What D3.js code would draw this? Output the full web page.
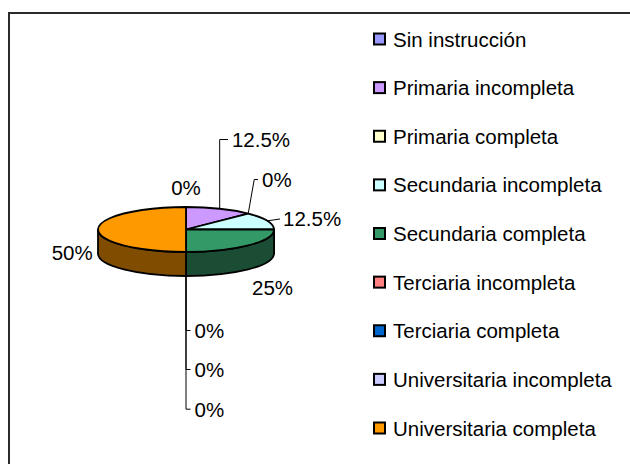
<!DOCTYPE html>
<html>
<head>
<meta charset="utf-8">
<script src="https://cdn.jsdelivr.net/npm/d3@7"></script>
<style>
  body { margin: 0; background: #fff; }
  svg { display: block; }
  text { font-family: "Liberation Sans", Arial, sans-serif; font-size: 20.5px; fill: #000; }
</style>
</head>
<body>
<div id="chart"></div>
<script>
const categories = [
  "Sin instrucción",
  "Primaria incompleta",
  "Primaria completa",
  "Secundaria incompleta",
  "Secundaria completa",
  "Terciaria incompleta",
  "Terciaria completa",
  "Universitaria incompleta",
  "Universitaria completa"
];
const values = [0, 12.5, 0, 12.5, 25, 0, 0, 0, 50];
const colors = [
  "#9999FF", "#CC99FF", "#FFFFCC", "#CCFFFF", "#339966",
  "#FF8080", "#0066CC", "#CCCCFF", "#FF9900"
];

// label placement relative to each slice's edge point: [dx, dy, anchor, leader]
// leader: null = none, number = elbow offset, "line" = straight
const labelLayout = [
  [0, -12, "middle", null],
  [12.3, -61.7, "start", 0],
  [13.8, -26.6, "start", 6],
  [15.7, 5.6, "start", "line"],
  [3.8, 25.6, "start", null],
  [8.5, 62, "start", 0],
  [8.5, 101, "start", 0],
  [8.5, 140.7, "start", 0],
  [-5.3, 30.5, "end", null]
];

const width = 630, height = 464;
const cx = 186, cy = 229.5, rx = 88, ry = 22.5, depth = 24;

const svg = d3.select("#chart").append("svg")
  .attr("width", width)
  .attr("height", height);

// chart frame (runs off the right and bottom edge)
svg.append("rect")
  .attr("x", 9).attr("y", 13)
  .attr("width", 700).attr("height", 600)
  .attr("fill", "none")
  .attr("stroke", "#2b2b2b")
  .attr("stroke-width", 2);

const xs = d3.scaleLinear().domain([-1, 1]).range([cx - rx, cx + rx]);
const ys = d3.scaleLinear().domain([-1, 1]).range([cy - ry, cy + ry]);
const pt = (a, dz = 0) => [xs(Math.sin(a)), ys(-Math.cos(a)) + dz];

function arcs(a0, a1, dz, sweep) {
  let s = "";
  const n = Math.max(1, Math.ceil(Math.abs(a1 - a0) / (Math.PI / 2)));
  for (let k = 1; k <= n; k++) {
    const p = pt(a0 + (a1 - a0) * k / n, dz);
    s += `A${rx},${ry} 0 0 ${sweep} ${p[0]},${p[1]}`;
  }
  return s;
}

const pie = d3.pie().sort(null).value(d => d);
const slices = pie(values).map((d, i) => ({ ...d, i }));

const shade = c => { const r = d3.rgb(c); return d3.rgb(r.r * 0.5, r.g * 0.5, r.b * 0.5).toString(); };

// side walls: only the front half (pi/2 .. 3pi/2) is visible
const sides = slices.filter(d => d.value > 0)
  .map(d => ({ d, s0: Math.max(d.startAngle, Math.PI / 2), s1: Math.min(d.endAngle, Math.PI * 1.5) }))
  .filter(o => o.s1 > o.s0);

svg.append("g").selectAll("path")
  .data(sides)
  .enter()
  .append("path")
  .attr("d", o => {
    const p0 = pt(o.s0), p1d = pt(o.s1, depth);
    return `M${p0}` + arcs(o.s0, o.s1, 0, 1) + `L${p1d}` + arcs(o.s1, o.s0, depth, 0) + "Z";
  })
  .attr("fill", o => shade(colors[o.d.i]))
  .attr("stroke", "#000")
  .attr("stroke-width", 1.8)
  .attr("stroke-linejoin", "round");

// top faces
svg.append("g").selectAll("path")
  .data(slices.filter(d => d.value > 0))
  .enter()
  .append("path")
  .attr("d", d => `M${cx},${cy}L${pt(d.startAngle)}` + arcs(d.startAngle, d.endAngle, 0, 1) + "Z")
  .attr("fill", d => colors[d.i])
  .attr("stroke", "#000")
  .attr("stroke-width", 1.8)
  .attr("stroke-linejoin", "round");

// data labels and leader lines
const anchorOf = d => {
  const mid = (d.startAngle + d.endAngle) / 2;
  return pt(mid, Math.cos(mid) < -1e-9 ? depth : 0);
};

const labels = slices.map(d => {
  const a = anchorOf(d);
  const [dx, dy, anchor, leader] = labelLayout[d.i];
  return { d, a, x: a[0] + dx, y: a[1] + dy, anchor, leader };
});

const line = d3.line();
svg.append("g").selectAll("path")
  .data(labels.filter(l => l.leader !== null))
  .enter()
  .append("path")
  .attr("d", l => {
    const ty = l.y - 7.5;
    if (l.leader === "line") return line([l.a, [l.x - 3, ty]]);
    return line([l.a, [l.a[0] + l.leader, ty], [l.x - 4, ty]]);
  })
  .attr("fill", "none")
  .attr("stroke", "#000")
  .attr("stroke-width", 1);

svg.append("g").selectAll("text")
  .data(labels)
  .enter()
  .append("text")
  .attr("x", l => l.x)
  .attr("y", l => l.y)
  .attr("text-anchor", l => l.anchor)
  .text(l => l.d.value + "%");

// legend
const ly = d3.scaleLinear().domain([0, categories.length - 1]).range([39, 428]);
const legend = svg.append("g").selectAll("g")
  .data(categories)
  .enter()
  .append("g")
  .attr("transform", (d, i) => `translate(374,${ly(i)})`);

legend.append("rect")
  .attr("x", 0).attr("y", -5.5)
  .attr("width", 11).attr("height", 11)
  .attr("fill", (d, i) => colors[i])
  .attr("stroke", "#000")
  .attr("stroke-width", 2);

legend.append("text")
  .attr("x", 19)
  .attr("y", 7.5)
  .text(d => d);
</script>
</body>
</html>
